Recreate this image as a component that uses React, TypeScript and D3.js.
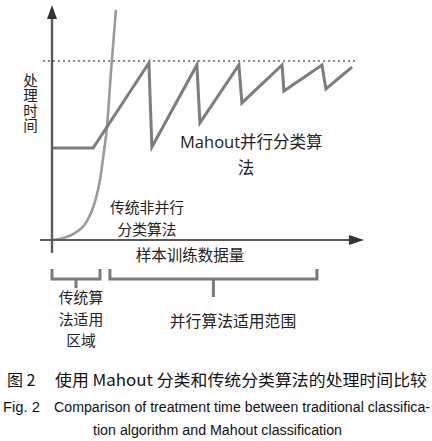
import React from "react";
import * as d3 from "d3";

// ---- data (sample size 0-100, processing time 0-100) ----
const traditionalX = [0.3, 7, 11.7, 14.3, 16, 17.3, 18.3, 19.7, 21.3];
const traditionalY = [0, 2.6, 8.3, 16.5, 26.1, 38.3, 48.7, 73.9, 100];

const mahoutX = [0.3, 13.7, 32.3, 33.3, 48.3, 49.3, 62.3, 63.3, 76.7, 77.3, 90, 91.3, 100];
const mahoutY = [40, 40, 77, 40.4, 76.1, 50.9, 76.1, 59.6, 76.1, 64.8, 76.1, 65.7, 75.2];

const limitY = 77.8;
const yLabel = "处理时间";
const bracketLabels = ["传统算法适用区域", "并行算法适用范围"];
const bracketFrom = [0, 19.3];
const bracketTo = [16, 88.3];

const W = 432;
const H = 441;

export default function App() {
  const x = d3.scaleLinear().domain([0, 100]).range([52, 352]);
  const y = d3.scaleLinear().domain([0, 100]).range([240, 10]);

  const trad = traditionalX.map((v, i) => [v, traditionalY[i]] as [number, number]);
  const mah = mahoutX.map((v, i) => [v, mahoutY[i]] as [number, number]);

  const tradLine = d3
    .line<[number, number]>()
    .x((d) => x(d[0]))
    .y((d) => y(d[1]))
    .curve(d3.curveMonotoneX)(trad) as string;
  const mahLine = d3
    .line<[number, number]>()
    .x((d) => x(d[0]))
    .y((d) => y(d[1]))(mah) as string;

  const axisColor = "#5a5a5a";
  const x0 = x(-4);
  const x1 = x(104);
  const xAxisY = y(0);
  const yAxisX = x(0);
  const yTop = y(102.2);
  const yBottom = y(-5.6);

  const bTop = 269;
  const bMid = 279;
  const serif = "'Noto Sans CJK SC', 'DejaVu Serif', serif";
  const sansCJK = "'Noto Sans CJK SC', 'Liberation Sans', sans-serif";
  const arial = "'Liberation Sans', Arial, sans-serif";
  const lh = 21.6;

  return (
    <svg
      width={W}
      height={H}
      style={{ position: "absolute", left: 0, top: 0, background: "#fff" }}
    >
      {/* limit dotted line */}
      <line
        x1={x(-3)}
        x2={x(102)}
        y1={y(limitY)}
        y2={y(limitY)}
        stroke="#8a8a8a"
        strokeWidth={2}
        strokeDasharray="2,3"
      />
      {/* traditional curve */}
      <path d={tradLine} fill="none" stroke="#9a9a9a" strokeWidth={2.6} />
      {/* Mahout sawtooth */}
      <path d={mahLine} fill="none" stroke="#7d7d7d" strokeWidth={3} strokeLinejoin="miter" />

      {/* axes */}
      <line x1={x0} x2={x1 - 12} y1={xAxisY} y2={xAxisY} stroke={axisColor} strokeWidth={2.2} />
      <path
        d={`M${x1},${xAxisY} L${x1 - 15},${xAxisY - 5} L${x1 - 15},${xAxisY + 5} Z`}
        fill="#333"
      />
      <line x1={yAxisX} x2={yAxisX} y1={yBottom} y2={yTop + 12} stroke={axisColor} strokeWidth={2.4} />
      <path
        d={`M${yAxisX},${yTop} L${yAxisX - 5},${yTop + 14} L${yAxisX + 5},${yTop + 14} Z`}
        fill="#333"
      />

      {/* brackets */}
      {bracketFrom.map((f, i) => {
        const a = x(f);
        const b = x(bracketTo[i]);
        const m = (a + b) / 2;
        return (
          <g key={i} stroke="#7a7a7a" strokeWidth={3} fill="none">
            <path d={`M${a},${bTop} L${a},${bMid} L${b},${bMid} L${b},${bTop}`} />
            <line x1={m} x2={m} y1={bMid} y2={i === 0 ? 288 : 297} />
          </g>
        );
      })}

      {/* y label (vertical) */}
      <text
        x={30.5}
        y={73}
        fontFamily={serif}
        fontSize={14.5}
        fill="#222"
        style={{ writingMode: "vertical-rl", letterSpacing: "0.5px" } as React.CSSProperties}
      >
        {yLabel}
      </text>

      {/* Mahout label */}
      <text fontSize={16.5} fill="#222">
        <tspan x={180} y={148} fontFamily="'Open Sans', 'Liberation Sans', sans-serif">Mahout</tspan>
        <tspan fontFamily={serif}>并行分类算</tspan>
      </text>
      <text x={246} y={174} fontSize={16.5} fill="#222" fontFamily={serif} textAnchor="middle">
        法
      </text>

      {/* other labels */}
      <g fontFamily={serif} fontSize={14.8} fill="#222" textAnchor="middle">
        <text x={147} y={213}>传统非并行</text>
        <text x={147} y={213 + lh}>分类算法</text>
        <text x={190} y={261} fontSize={15.5}>样本训练数据量</text>
        <text x={81} y={303}>{bracketLabels[0].slice(0, 3)}</text>
        <text x={81} y={303 + lh}>{bracketLabels[0].slice(3, 6)}</text>
        <text x={81} y={303 + 2 * lh}>{bracketLabels[0].slice(6)}</text>
        <text x={233} y={327} fontSize={15.8}>{bracketLabels[1]}</text>
      </g>

      {/* captions */}
      <text x={7} y={386} fontFamily={sansCJK} fontSize={16} fill="#111">
        图 2
      </text>
      <text
        x={55}
        y={386}
        fontFamily={sansCJK}
        fontSize={16}
        fill="#111"
        textLength={372}
        lengthAdjust="spacingAndGlyphs"
      >
        使用 Mahout 分类和传统分类算法的处理时间比较
      </text>
      <text x={3} y={412} fontFamily={arial} fontSize={14} fill="#111" textLength={37} lengthAdjust="spacingAndGlyphs">
        Fig. 2
      </text>
      <text
        x={54}
        y={412}
        fontFamily={arial}
        fontSize={14}
        fill="#111"
        textLength={376}
        lengthAdjust="spacingAndGlyphs"
      >
        Comparison of treatment time between traditional classifica-
      </text>
      <text
        x={93}
        y={435}
        fontFamily={arial}
        fontSize={14}
        fill="#111"
        textLength={249}
        lengthAdjust="spacingAndGlyphs"
      >
        tion algorithm and Mahout classification
      </text>
    </svg>
  );
}
